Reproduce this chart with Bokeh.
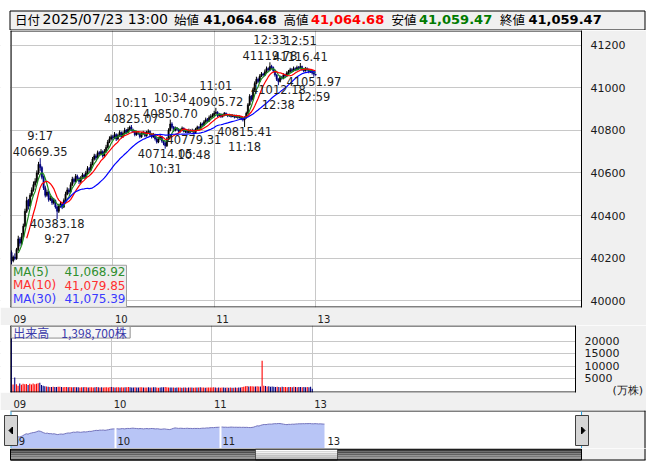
import numpy as np
import pandas as pd
from bokeh.plotting import figure
from bokeh.layouts import column
from bokeh.models import Range1d, FixedTicker, ColumnDataSource
from bokeh.core.properties import value
from bokeh.embed import file_html
from bokeh.resources import INLINE

# ---------------- data ----------------
header_date = "2025/07/23 13:00"
header_names = ["始値", "高値", "安値", "終値"]
header_values = ["41,064.68", "41,064.68", "41,059.47", "41,059.47"]

time_labels = ["09", "10", "11", "13"]
time_idx = [0, 60, 120, 180]          # trading-minute index of each label
price_ticks = [40000, 40200, 40400, 40600, 40800, 41000, 41200]
vol_ticks = [5000, 10000, 15000, 20000]

first_open = 40226
close = [
    40188, 40205, 40198, 40240, 40290, 40270, 40300, 40350, 40420, 40470,
    40445, 40495, 40520, 40545, 40560, 40600, 40640, 40625, 40580, 40530,
    40495, 40510, 40475, 40480, 40460, 40470, 40440, 40420, 40445, 40455,
    40440, 40470, 40500, 40520, 40510, 40545, 40570, 40560, 40585, 40575,
    40560, 40575, 40590, 40580, 40600, 40620, 40615, 40640, 40665, 40680,
    40670, 40695, 40690, 40700, 40680, 40700, 40720, 40745, 40760, 40770,
    40765, 40780, 40760, 40775, 40790, 40770, 40785, 40800, 40790, 40805,
    40815, 40800, 40795, 40780, 40790, 40785, 40770, 40785, 40790, 40775,
    40790, 40795, 40780, 40770, 40780, 40760, 40745, 40760, 40770, 40750,
    40740, 40728, 40760, 40800, 40830, 40815, 40800, 40810, 40805, 40795,
    40800, 40810, 40795, 40800, 40790, 40800, 40795, 40800, 40790, 40805,
    40815, 40810, 40830, 40825, 40840, 40850, 40845, 40860, 40865, 40870,
    40880, 40885, 40870, 40875, 40865, 40870, 40880, 40875, 40868, 40872,
    40865, 40870, 40862, 40868, 40860, 40865, 40855, 40850, 40860, 40880,
    40920, 40960, 40945, 40990, 41020, 41040, 41030, 41055, 41065, 41060,
    41075, 41090, 41085, 41100, 41095, 41080, 41060, 41040, 41030, 41050,
    41045, 41060, 41055, 41070, 41075, 41085, 41080, 41090, 41085, 41095,
    41090, 41100, 41085, 41080, 41090, 41085, 41075, 41080, 41070, 41064.68,
    41059.47,
]
high = [
    40236, 40212, 40222, 40248, 40305, 40298, 40318, 40362, 40432, 40488,
    40478, 40505, 40532, 40560, 40575, 40612, 40652, 40669.35, 40632, 40588,
    40540, 40522, 40515, 40492, 40488, 40482, 40475, 40448, 40455, 40466,
    40462, 40480, 40512, 40532, 40528, 40556, 40582, 40578, 40595, 40592,
    40580, 40585, 40600, 40596, 40610, 40632, 40628, 40652, 40675, 40690,
    40688, 40705, 40702, 40712, 40706, 40712, 40732, 40755, 40772, 40780,
    40778, 40792, 40786, 40784, 40800, 40795, 40795, 40812, 40806, 40815,
    40822, 40825.07, 40808, 40800, 40798, 40796, 40790, 40793, 40798, 40795,
    40798, 40805, 40800, 40786, 40788, 40784, 40765, 40768, 40778, 40774,
    40755, 40748, 40768, 40810, 40850.70, 40838, 40820, 40818, 40815, 40810,
    40808, 40818, 40814, 40806, 40805, 40808, 40805, 40808, 40804, 40812,
    40822, 40820, 40838, 40836, 40848, 40860, 40858, 40870, 40876, 40880,
    40892, 40905.72, 40890, 40882, 40880, 40878, 40886, 40884, 40878, 40878,
    40876, 40876, 40874, 40874, 40870, 40870, 40868, 40860, 40866, 40888,
    40928, 40970, 40966, 41000, 41030, 41052, 41048, 41064, 41074, 41070,
    41086, 41100, 41096, 41119.78, 41108, 41100, 41085, 41064, 41045, 41058,
    41056, 41068, 41066, 41078, 41084, 41094, 41092, 41100, 41096, 41104,
    41102, 41116.41, 41104, 41092, 41098, 41096, 41090, 41088, 41084, 41076,
    41064.68,
]
low = [
    40172, 40180, 40190, 40192, 40232, 40255, 40262, 40295, 40345, 40412,
    40428, 40440, 40488, 40512, 40535, 40552, 40592, 40610, 40570, 40520,
    40485, 40488, 40465, 40468, 40450, 40452, 40432, 40383.18, 40412, 40438,
    40430, 40435, 40462, 40495, 40500, 40505, 40538, 40550, 40555, 40565,
    40548, 40552, 40570, 40572, 40575, 40595, 40605, 40610, 40635, 40658,
    40660, 40665, 40680, 40684, 40672, 40676, 40695, 40715, 40740, 40752,
    40755, 40760, 40750, 40754, 40770, 40762, 40765, 40780, 40782, 40786,
    40800, 40795, 40788, 40772, 40775, 40778, 40762, 40765, 40780, 40768,
    40770, 40785, 40772, 40762, 40765, 40752, 40738, 40740, 40755, 40742,
    40730, 40714.05, 40722, 40755, 40795, 40808, 40792, 40795, 40798, 40788,
    40790, 40796, 40790, 40788, 40785, 40786, 40788, 40790, 40779.31, 40786,
    40800, 40804, 40806, 40818, 40820, 40835, 40838, 40840, 40855, 40860,
    40865, 40875, 40862, 40864, 40858, 40860, 40866, 40868, 40862, 40864,
    40860, 40862, 40856, 40858, 40854, 40856, 40848, 40842, 40815.41, 40855,
    40875, 40915, 40935, 40940, 40985, 41015, 41022, 41026, 41050, 41052,
    41055, 41070, 41078, 41080, 41088, 41072, 41052, 41032, 41012.18, 41025,
    41038, 41040, 41048, 41050, 41065, 41070, 41074, 41076, 41078, 41080,
    41084, 41086, 41080, 41074, 41076, 41078, 41068, 41070, 41062, 41051.97,
    41059.47,
]
volume = [
    21500, 2400, 5300, 2500, 1900, 2900, 2300, 2800, 2500, 2600,
    2200, 2700, 2400, 2900, 2500, 2700, 3000, 3200, 2200, 1900,
    1700, 1600, 1500, 1450, 1400, 1500, 1450, 1400, 1500, 1550,
    1400, 1350, 1400, 1450, 1300, 1400, 1350, 1300, 1450, 1350,
    1300, 1250, 1350, 1300, 1400, 1300, 1250, 1350, 1300, 1250,
    1300, 1400, 1350, 1250, 1300, 1200, 1350, 1300, 1250, 1400,
    1450, 1300, 1250, 1350, 1300, 1200, 1300, 1250, 1350, 1300,
    1400, 1350, 1250, 1200, 1300, 1250, 1200, 1300, 1350, 1250,
    1200, 1250, 1300, 1200, 1250, 1300, 1350, 1200, 1150, 1250,
    1300, 1350, 1400, 1300, 1250, 1200, 1250, 1200, 1150, 1200,
    1250, 1200, 1150, 1200, 1250, 1150, 1200, 1250, 1200, 1150,
    1200, 1250, 1200, 1300, 1250, 1200, 1150, 1200, 1250, 1200,
    1250, 1300, 1200, 1150, 1200, 1150, 1200, 1250, 1150, 1200,
    1150, 1200, 1150, 1100, 1200, 1150, 1200, 1250, 1400, 1500,
    1700, 1800, 1600, 1700, 1750, 1650, 1600, 1700, 1650, 1600,
    12200, 1900, 1800, 1600, 1700, 1500, 1600, 1550, 1450, 1500,
    1400, 1350, 1500, 1450, 1400, 1350, 1450, 1400, 1350, 1500,
    1400, 1300, 1450, 1400, 1350, 1400, 1300, 1450, 1350, 1500,
    700,
]

ann_idx = [17, 27, 71, 91, 94, 108, 121, 138, 153, 158, 171, 179]
ann_time = ["9:17", "9:27", "10:11", "10:31", "10:34", "10:48",
            "11:01", "11:18", "12:33", "12:38", "12:51", "12:59"]
ann_price = [40669.35, 40383.18, 40825.07, 40714.05, 40850.70, 40779.31,
             40905.72, 40815.41, 41119.78, 41012.18, 41116.41, 41051.97]
ann_kind = ["high", "low", "high", "low", "high", "low",
            "high", "low", "high", "low", "high", "low"]

ma_periods = [5, 10, 30]
ma_last = ["41,068.92", "41,079.85", "41,075.39"]

vol_title = "出来高\u30001,398,700株"
vol_unit = "(万株)"

# ---------------- styles ----------------
W = 646
FONT = "DejaVu Sans"
JFONT = "Noto Sans CJK JP"
GRID = "#c8c8c8"
PANEL = "#f0f0f0"
UP, DOWN = "#000000", "#000080"
VUP, VDOWN = "#ff0000", "#000080"
ma_line_colors = ["#1e8c1e", "#ff0000", "#0000ff"]
ma_text_colors = ["#2f8f2f", "#ff3030", "#3a3aff"]
TXT = "#1e1e1e"
LBL_OFF = 5
PXM = 1.689       # pixels per minute in the price / volume panels
NPX = 1.75        # pixels per minute in the navigator

open_ = [first_open] + close[:-1]
idx = list(range(len(close)))
df = pd.DataFrame(dict(idx=idx, o=open_, h=high, l=low, c=close, v=volume))
up = df.c >= df.o
df["top"] = df[["o", "c"]].max(axis=1)
df["bot"] = df[["o", "c"]].min(axis=1)
df["color"] = np.where(up, UP, DOWN)
df["vcolor"] = np.where(up, VUP, VDOWN)
for n in ma_periods:
    df[f"ma{n}"] = df.c.rolling(n).mean()
src = ColumnDataSource(df)


def style_time_axis(ax):
    ax.ticker = FixedTicker(ticks=[t + LBL_OFF for t in time_idx])
    ax.major_label_overrides = {t + LBL_OFF: s for t, s in zip(time_idx, time_labels)}
    ax.major_tick_line_color = None
    ax.minor_tick_line_color = None
    ax.axis_line_color = None
    ax.major_label_standoff = 1
    ax.major_label_text_font = FONT
    ax.major_label_text_font_size = "10px"
    ax.major_label_text_color = "#222222"


def style_value_axis(ax, ticks, overrides=None):
    ax.ticker = FixedTicker(ticks=ticks)
    if overrides:
        ax.major_label_overrides = overrides
    ax.major_tick_line_color = None
    ax.minor_tick_line_color = None
    ax.axis_line_color = "black"
    ax.major_label_standoff = 3
    ax.major_label_text_font = FONT
    ax.major_label_text_font_size = "11px"
    ax.major_label_text_color = "#1a1a1a"


def chrome_fig(height, xr, yr):
    p = figure(width=W, height=height, x_range=xr, y_range=yr, title=None,
               toolbar_location=None, output_backend="svg", min_border=0,
               x_axis_location=None, y_axis_location=None)
    p.frame_align = False
    p.grid.visible = False
    p.outline_line_color = None
    p.background_fill_color = "white"
    p.border_fill_color = "white"
    return p


def panel_fig(height, yr, frame_h):
    p = figure(width=W, height=height, x_range=xr, y_range=yr, title=None,
               toolbar_location=None, output_backend="svg",
               x_axis_location="below", y_axis_location="right",
               min_border_left=0, min_border_right=65, min_border_top=0,
               min_border_bottom=height - frame_h)
    p.frame_align = False
    p.background_fill_color = "white"
    p.border_fill_color = PANEL
    p.outline_line_color = None
    p.xgrid.ticker = FixedTicker(ticks=time_idx)
    p.grid.grid_line_color = GRID
    p.extra_x_ranges = {"px": Range1d(0, 581)}
    p.extra_y_ranges = {"py": Range1d(frame_h, 0)}
    return p


def frame_chrome(p, frame_h):
    # white outer margin left of the panel and its black frame lines
    p.quad(left=0, right=10, top=0, bottom=frame_h, fill_color="white", line_color=None,
           x_range_name="px", y_range_name="py")
    p.segment(x0=[10.5, 10, 10], x1=[10.5, 581, 581], y0=[0, 0.5, frame_h - 0.5],
              y1=[frame_h, 0.5, frame_h - 0.5], line_color="black", line_width=1,
              x_range_name="px", y_range_name="py")


# ---------------- header ----------------
hdr = chrome_fig(30, Range1d(0, W), Range1d(30, 0))
hdr.quad(left=9.5, right=644.5, top=10.5, bottom=29.5, fill_color=PANEL, line_color="black")
HY = 18.8
hdr.text(x=[14.5], y=[HY], text=["日付"], text_font=value(JFONT), text_font_size="12.5px",
         text_baseline="middle", text_color="black")
hdr.text(x=[42], y=[HY], text=[header_date], text_font=value(FONT), text_font_size="14px",
         text_baseline="middle", text_color="black")
name_x = [173.5, 283, 391, 499.5]
val_x = [203, 310.5, 418.5, 528]
val_colors = ["#000000", "#ff0000", "#007a00", "#000000"]
hdr.text(x=name_x, y=[HY] * 4, text=header_names, text_font=value(JFONT), text_font_size="12.5px",
         text_baseline="middle", text_color="black")
hdr.text(x=val_x, y=[HY] * 4, text=header_values, text_font=value(FONT), text_font_size="13px",
         text_font_style="bold", text_baseline="middle", text_color=val_colors)

# ---------------- main price panel ----------------
xr = Range1d(-11 / PXM, 570 / PXM)
MAIN_H = 282
main = panel_fig(295, Range1d(39967.8, 41269.2), MAIN_H)
main.ygrid.ticker = FixedTicker(ticks=price_ticks)
style_time_axis(main.xaxis[0])
style_value_axis(main.yaxis[0], price_ticks)

main.segment(x0="idx", y0="l", x1="idx", y1="h", line_color="color", line_width=1, source=src)
main.vbar(x="idx", width=0.8, top="top", bottom="bot", fill_color="color",
          line_color="color", line_width=0.5, source=src)
for n, col in zip(ma_periods, ma_line_colors):
    main.line("idx", f"ma{n}", line_color=col, line_width=1.2, source=src)

ann = pd.DataFrame(dict(i=ann_idx, t=ann_time, p=ann_price, k=ann_kind))
ann["ptxt"] = [f"{v:.2f}" for v in ann_price]
hi_src = ColumnDataSource(ann[ann.k == "high"])
lo_src = ColumnDataSource(ann[ann.k == "low"])
common = dict(text_font=value(FONT), text_font_size="11.5px", text_color=TXT, text_align="center")
main.text(x="i", y="p", text="ptxt", source=hi_src, text_baseline="bottom", y_offset=-2, **common)
main.text(x="i", y="p", text="t", source=hi_src, text_baseline="bottom", y_offset=-15, **common)
main.text(x="i", y="p", text="ptxt", source=lo_src, text_baseline="top", y_offset=0, **common)
main.text(x="i", y="p", text="t", source=lo_src, text_baseline="top", y_offset=13, **common)

frame_chrome(main, MAIN_H)
# MA legend box
main.quad(left=11, right=126, top=239, bottom=282, fill_color="#ececec", fill_alpha=0.92,
          line_color="#a0a0a0", x_range_name="px", y_range_name="py")
rows_py = [245.5, 259.5, 273]
main.text(x=[12.5] * 3, y=rows_py, text=[f"MA({n})" for n in ma_periods], text_color=ma_text_colors,
          text_font=value(FONT), text_font_size="12px", text_baseline="middle",
          x_range_name="px", y_range_name="py")
main.text(x=[125] * 3, y=rows_py, text=ma_last, text_color=ma_text_colors,
          text_font=value(FONT), text_font_size="12px", text_baseline="middle", text_align="right",
          x_range_name="px", y_range_name="py")

# ---------------- volume panel ----------------
vol_lo = -840
VOL_H = 72
vol = panel_fig(85, Range1d(vol_lo, 26640), VOL_H)
vol.ygrid.ticker = FixedTicker(ticks=vol_ticks)
style_time_axis(vol.xaxis[0])
unit_pos = 0
style_value_axis(vol.yaxis[0], vol_ticks + [unit_pos],
                 overrides={unit_pos: "\u00a0" * 8 + vol_unit})
vol.vbar(x="idx", width=0.65, top="v", bottom=vol_lo, fill_color="vcolor", line_color=None, source=src)
frame_chrome(vol, VOL_H)
vol.quad(left=11, right=131, top=1, bottom=13.5, fill_color="#f6f6f6", line_color="#909090",
         x_range_name="px", y_range_name="py")
vol.text(x=[13], y=[7.5], text=[vol_title], text_font=value(JFONT), text_font_size="12px",
         text_color="#3b3baa", text_baseline="middle", x_range_name="px", y_range_name="py")

# ---------------- navigator ----------------
nav_lo, nav_hi = 39568, 41897
nav = chrome_fig(38, Range1d(-10 / NPX, 636 / NPX), Range1d(nav_lo, nav_hi))
nav.extra_x_ranges = {"px": Range1d(0, W)}
nav.extra_y_ranges = {"py": Range1d(38, 0)}
nav.quad(left=581, right=646, top=0, bottom=38, fill_color=PANEL, line_color=None,
         x_range_name="px", y_range_name="py")
nav.varea(x=idx, y1=nav_lo, y2=close, fill_color="#b8c5f6")
nav.line(x=idx, y=close, line_color="#7474bc", line_width=1)
nav.segment(x0=time_idx, x1=time_idx, y0=nav_lo, y1=nav_hi, line_color="white", line_width=2)
nav.text(x=time_idx, y=[30.5] * 4, text=time_labels, x_offset=2, y_range_name="py",
         text_font=value(FONT), text_font_size="10px", text_color="#222222", text_baseline="middle")
nav.segment(x0=[10, 644.5], x1=[645, 644.5], y0=[0.5, 0], y1=[0.5, 38], line_color="black",
            line_width=1, x_range_name="px", y_range_name="py")
nav.segment(x0=[10.5, 581], x1=[10.5, 581], y0=[1, 1], y1=[38, 38], line_color="#2aa0dc",
            line_width=1, x_range_name="px", y_range_name="py")
# scroll buttons
nav.quad(left=[4, 575], right=[17, 588], top=[5, 5], bottom=[35, 35], fill_color="#d6d6d6",
         line_color="#404040", x_range_name="px", y_range_name="py")
nav.patches(xs=[[8.5, 12, 12], [584.5, 581, 581]], ys=[[20, 16.5, 23.5], [20, 16.5, 23.5]],
            fill_color="black", line_color="black", x_range_name="px", y_range_name="py")

# ---------------- scrollbar ----------------
sb = chrome_fig(13, Range1d(0, W), Range1d(13, 0))
sb.quad(left=581, right=646, top=0, bottom=13, fill_color=PANEL, line_color=None)
track = ["#3c3c3c", "#4e4e4e", "#626262", "#7a7a7a", "#949494"]
thumb = ["#ffffff", "#f2f2f2", "#e0e0e0", "#cecece", "#bdbdbd"]
bands_top = [0.5 + 2.2 * k for k in range(5)]
bands_bot = [t + 2.2 for t in bands_top]
sb.quad(left=10, right=581, top=bands_top, bottom=bands_bot, fill_color=track, line_color=None)
sb.quad(left=255, right=337, top=bands_top, bottom=bands_bot, fill_color=thumb, line_color=None)
sb.quad(left=255, right=337, top=0.5, bottom=11.5, fill_color=None, line_color="#555555")
sb.quad(left=10, right=581, top=0.5, bottom=11.5, fill_color=None, line_color="black")
sb.segment(x0=[10, 644.5], x1=[645, 644.5], y0=[11.5, 0], y1=[11.5, 11.5], line_color="black")

layout = column(hdr, main, vol, nav, sb, spacing=0)
open("out.html", "w").write(file_html(layout, INLINE))
